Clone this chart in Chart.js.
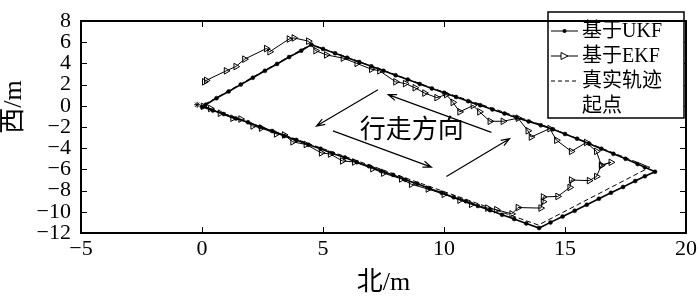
<!DOCTYPE html>
<html>
<head>
<meta charset="utf-8">
<script src="https://cdn.jsdelivr.net/npm/chart.js@4.4.1/dist/chart.umd.min.js"></script>
<style>
    html, body { margin: 0; padding: 0; background: #fff; }
</style>
</head>
<body>
<canvas id="trackChart" width="700" height="297"></canvas>
<script>
// 基于UKF
const ukfX = [0, 0.45, 0.9, 1.4, 1.9, 2.4, 2.9, 3.4, 3.9, 4.4, 4.9, 5.4, 5.9, 6.4, 6.9, 7.4, 7.9, 8.4, 8.9, 9.4, 9.9, 10.4, 10.9, 11.4, 11.9, 12.4, 12.9, 13.4, 13.93,
    14.4, 14.9, 15.4, 15.9, 16.4, 16.9, 17.4, 17.9, 18.3, 18.72,
    18.3, 18.0, 17.5, 17.0, 16.5, 16.0, 15.5, 15.0, 14.5, 14.0, 13.5, 13.0, 12.5, 12.0, 11.5, 11.0, 10.5, 10.0, 9.5, 9.0, 8.5, 8.0, 7.5, 7.0, 6.5, 6.0, 5.5, 5.0, 4.52,
    4.1, 3.6, 3.1, 2.6, 2.1, 1.6, 1.1, 0.6, 0.15];
const ukfY = [-0.1, -0.45, -0.78, -1.2, -1.55, -2.0, -2.38, -2.85, -3.22, -3.68, -4.05, -4.5, -4.87, -5.32, -5.7, -6.15, -6.52, -6.98, -7.36, -7.8, -8.2, -8.63, -9.0, -9.45, -9.85, -10.28, -10.68, -11.1, -11.53,
    -11.0, -10.45, -9.9, -9.33, -8.77, -8.2, -7.66, -7.1, -6.65, -6.22,
    -5.8, -5.5, -5.0, -4.53, -4.05, -3.57, -3.1, -2.66, -2.22, -1.84, -1.47, -1.12, -0.73, -0.34, 0.05, 0.44, 0.83, 1.23, 1.63, 2.05, 2.47, 2.88, 3.3, 3.72, 4.13, 4.54, 4.96, 5.37, 5.77,
    5.2, 4.6, 3.95, 3.3, 2.65, 2.0, 1.35, 0.72, 0.1];

// 基于EKF
const ekfX = [0.05, 0.35, 0.75, 1.27, 1.6, 2.1, 2.45, 3.07, 3.4, 3.75, 4.3, 4.93, 5.3, 5.8, 6.3, 7.05, 7.5, 8.24, 8.65, 9.34, 10.0, 10.65, 11.13, 11.8, 12.17, 12.8, 13.06,
    14.0, 14.1, 14.1, 14.7, 15.2, 15.26, 16.0, 16.3, 16.5, 16.9, 16.5, 16.3, 15.88, 15.26, 14.65, 14.37,
    13.6, 13.47, 13.06, 12.44, 11.9, 11.47, 11.2, 10.65, 10.37, 10.1, 9.7, 9.2, 8.8, 8.4, 8.0, 7.34, 7.0, 6.4, 5.83, 5.14, 4.7, 4.4,
    3.8, 3.6, 2.8, 2.66, 1.76, 1.4, 1.0, 0.18, 0.1];
const ekfY = [-0.05, -0.25, -0.7, -1.17, -1.25, -1.9, -2.1, -2.65, -2.75, -3.4, -3.65, -4.44, -4.55, -5.2, -5.3, -5.93, -6.35, -6.9, -7.4, -7.85, -8.35, -8.9, -9.3, -9.65, -9.8, -10.2, -9.6,
    -9.65, -9.05, -8.6, -8.55, -7.7, -7.0, -7.06, -6.67, -5.63, -5.33, -5.6, -4.3, -3.46, -4.3, -3.25, -2.15,
    -2.95, -2.36, -1.17, -1.46, -1.46, -0.57, 0.03, -0.57, 0.32, 1.06, 0.77, 1.2, 1.7, 2.1, 2.26, 3.3, 3.45, 4.0, 4.5, 4.8, 5.2, 6.1,
    6.4, 6.3, 5.1, 5.4, 4.4, 3.7, 3.3, 2.4, 2.26];

// 真实轨迹
const trueX = [0, 13.9, 18.5, 14.3, 9.8, 4.5, 0];
const trueY = [0, -11.25, -5.8, -2.0, 1.45, 5.8, 0];

// 起点
const startX = [-0.2];
const startY = [0.1];

const legendLabels = ["基于UKF", "基于EKF", "真实轨迹", "起点"];
const xTicks = [-5, 0, 5, 10, 15, 20];
const yTicks = [8, 6, 4, 2, 0, -2, -4, -6, -8, -10, -12];

// 行走方向 箭头 (数据坐标)
const arrows = [
    [7.27, 1.51, 4.73, -1.91],
    [11.96, -2.51, 7.69, 1.06],
    [5.41, -2.36, 9.48, -5.78],
    [10.1, -6.67, 12.71, -3.10],
];
const arrowText = { label: "行走方向", x: 8.67, y: -2.36 };

const serif = '"Liberation Serif", "Noto Sans CJK SC", serif';

function toPoints(xs, ys) {
    return xs.map((x, i) => ({ x: x, y: ys[i] }));
}

function minusSign(v) {
    return String(v).replace("-", "\u2212");
}

const decorPlugin = {
    id: "decor",
    afterDatasetsDraw(chart) {
        const ctx = chart.ctx;
        const xs = chart.scales.x;
        const ys = chart.scales.y;
        ctx.save();
        ctx.strokeStyle = "#000";
        ctx.lineWidth = 1.2;
        arrows.forEach((a) => {
            const x1 = xs.getPixelForValue(a[0]), y1 = ys.getPixelForValue(a[1]);
            const x2 = xs.getPixelForValue(a[2]), y2 = ys.getPixelForValue(a[3]);
            const ang = Math.atan2(y2 - y1, x2 - x1);
            ctx.beginPath();
            ctx.moveTo(x1, y1);
            ctx.lineTo(x2, y2);
            ctx.moveTo(x2 - 9 * Math.cos(ang - 0.35), y2 - 9 * Math.sin(ang - 0.35));
            ctx.lineTo(x2, y2);
            ctx.lineTo(x2 - 9 * Math.cos(ang + 0.35), y2 - 9 * Math.sin(ang + 0.35));
            ctx.stroke();
        });
        ctx.fillStyle = "#000";
        ctx.font = "26px " + serif;
        ctx.textAlign = "center";
        ctx.textBaseline = "middle";
        ctx.fillText(arrowText.label, xs.getPixelForValue(arrowText.x), ys.getPixelForValue(arrowText.y));
        ctx.restore();
    },
    afterDraw(chart) {
        const ctx = chart.ctx;
        const area = chart.chartArea;
        const xs = chart.scales.x;
        const ys = chart.scales.y;
        ctx.save();
        ctx.strokeStyle = "#000";

        // 刻度 (朝内)
        ctx.lineWidth = 1;
        ctx.beginPath();
        xTicks.forEach((t) => {
            const px = Math.round(xs.getPixelForValue(t)) + 0.5;
            ctx.moveTo(px, area.bottom);
            ctx.lineTo(px, area.bottom - 6);
            ctx.moveTo(px, area.top);
            ctx.lineTo(px, area.top + 6);
        });
        yTicks.forEach((t) => {
            const py = Math.round(ys.getPixelForValue(t)) + 0.5;
            ctx.moveTo(area.left, py);
            ctx.lineTo(area.left + 6, py);
            ctx.moveTo(area.right, py);
            ctx.lineTo(area.right - 6, py);
        });
        ctx.stroke();

        // 图例
        const lx = 548, ly = 12, lw = 136, lh = 106;
        ctx.fillStyle = "#fff";
        ctx.fillRect(lx, ly, lw, lh);
        ctx.lineWidth = 1.5;
        ctx.strokeRect(lx, ly, lw, lh);
        ctx.font = "20px " + serif;
        ctx.fillStyle = "#000";
        ctx.textAlign = "left";
        ctx.textBaseline = "middle";
        legendLabels.forEach((label, i) => {
            const ry = 31 + i * 25;
            ctx.lineWidth = 1;
            if (i === 0 || i === 1) {
                ctx.beginPath();
                ctx.moveTo(551, ry);
                ctx.lineTo(578, ry);
                ctx.stroke();
            }
            if (i === 0) {
                ctx.beginPath();
                ctx.arc(564.5, ry, 2, 0, Math.PI * 2);
                ctx.fill();
            }
            if (i === 1) {
                ctx.beginPath();
                ctx.moveTo(561, ry - 3.5);
                ctx.lineTo(568, ry);
                ctx.lineTo(561, ry + 3.5);
                ctx.closePath();
                ctx.fillStyle = "#fff";
                ctx.fill();
                ctx.stroke();
                ctx.fillStyle = "#000";
            }
            if (i === 2) {
                ctx.setLineDash([4, 3]);
                ctx.beginPath();
                ctx.moveTo(551, ry);
                ctx.lineTo(578, ry);
                ctx.stroke();
                ctx.setLineDash([]);
            }
            ctx.fillText(label, 582, ry + 1);
        });

        // 边框
        ctx.lineWidth = 2;
        ctx.strokeRect(area.left, area.top, area.right - area.left, area.bottom - area.top);

        // 轴标题
        ctx.font = "26px " + serif;
        ctx.textAlign = "center";
        ctx.textBaseline = "middle";
        ctx.fillText("北/m", (area.left + area.right) / 2, 283);
        ctx.translate(14, 107);
        ctx.rotate(-Math.PI / 2);
        ctx.fillText("西/m", 0, 0);
        ctx.restore();
    },
};

const ctx = document.getElementById("trackChart").getContext("2d");

const trackChart = new Chart(ctx, {
    type: "scatter",
    data: {
        datasets: [
            {
                label: legendLabels[0],
                data: toPoints(ukfX, ukfY),
                showLine: true,
                borderColor: "#000",
                backgroundColor: "#000",
                borderWidth: 1.6,
                pointStyle: "circle",
                pointRadius: 2,
                pointBorderWidth: 0.5,
            },
            {
                label: legendLabels[1],
                data: toPoints(ekfX, ekfY),
                showLine: true,
                borderColor: "#000",
                backgroundColor: "rgba(0,0,0,0)",
                borderWidth: 1,
                pointStyle: "triangle",
                rotation: 90,
                pointRadius: 3.8,
                pointBorderWidth: 1,
            },
            {
                label: legendLabels[2],
                data: toPoints(trueX, trueY),
                showLine: true,
                borderColor: "#000",
                borderWidth: 1,
                borderDash: [5, 3],
                pointRadius: 0,
            },
            {
                label: legendLabels[3],
                data: toPoints(startX, startY),
                showLine: false,
                borderColor: "#000",
                backgroundColor: "#000",
                pointStyle: "star",
                pointRadius: 3,
                pointBorderWidth: 1,
            },
        ],
    },
    options: {
        responsive: false,
        animation: false,
        devicePixelRatio: 1,
        layout: {
            padding: { left: 0, right: 13, top: 9, bottom: 0 },
        },
        plugins: {
            legend: { display: false },
            tooltip: { enabled: false },
        },
        scales: {
            x: {
                type: "linear",
                min: -5,
                max: 20,
                afterFit: (scale) => { scale.height = 64; },
                afterBuildTicks: (scale) => { scale.ticks = xTicks.map((v) => ({ value: v })); },
                grid: { display: false, drawTicks: false },
                border: { display: false },
                ticks: {
                    autoSkip: false,
                    maxRotation: 0,
                    padding: 3,
                    color: "#000",
                    font: { family: serif, size: 22 },
                    callback: (v) => minusSign(v),
                },
            },
            y: {
                type: "linear",
                min: -12,
                max: 8,
                afterFit: (scale) => { scale.width = 81; },
                afterBuildTicks: (scale) => { scale.ticks = yTicks.map((v) => ({ value: v })); },
                grid: { display: false, drawTicks: false },
                border: { display: false },
                ticks: {
                    autoSkip: false,
                    padding: 10,
                    color: "#000",
                    font: { family: serif, size: 22, lineHeight: 1 },
                    callback: (v) => minusSign(v),
                },
            },
        },
    },
    plugins: [decorPlugin],
});
</script>
</body>
</html>
